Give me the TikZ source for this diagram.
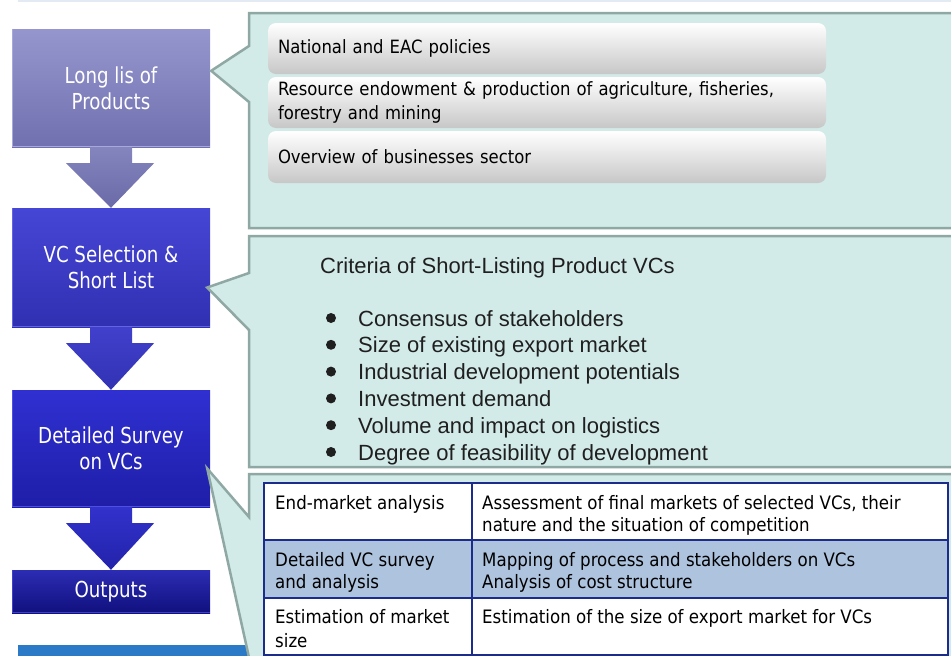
\documentclass[tikz,border=0pt]{standalone}
\usepackage{fontspec}
\setmainfont{DejaVu Sans Condensed}
\newfontfamily\gothic[FakeStretch=0.92]{DejaVu Sans Condensed}
\newfontfamily\arialf{Liberation Sans}
\usetikzlibrary{calc}
\definecolor{panelfill}{HTML}{D3EBE8}
\definecolor{panelline}{HTML}{8FA8A4}
\definecolor{tabline}{HTML}{1C2C8C}
\definecolor{rowfill}{HTML}{AEC3DE}
\definecolor{baseblue}{HTML}{2A7AC8}
\definecolor{topline}{HTML}{E4EAF4}
\definecolor{bAt}{HTML}{9696CE}\definecolor{bAb}{HTML}{7070B0}\definecolor{bAe}{HTML}{A8A8DA}
\definecolor{bBt}{HTML}{4646D6}\definecolor{bBb}{HTML}{3030B2}\definecolor{bBe}{HTML}{6464E0}
\definecolor{bCt}{HTML}{3030D2}\definecolor{bCb}{HTML}{1E1EA8}\definecolor{bCe}{HTML}{5050E0}
\definecolor{bDt}{HTML}{2C2CB4}\definecolor{bDb}{HTML}{10107E}\definecolor{bDe}{HTML}{4040C8}
\definecolor{aAt}{HTML}{8484BE}\definecolor{aAb}{HTML}{6A6AA8}
\definecolor{aBt}{HTML}{4040CC}\definecolor{aBb}{HTML}{3232B4}
\definecolor{aCt}{HTML}{3232CC}\definecolor{aCb}{HTML}{2222AA}
\tikzset{
  stepbox/.style={inner sep=0pt, minimum width=198pt, text=white, align=center,
    font=\gothic\fontsize{22}{26}\selectfont},
  panel/.style={fill=panelfill, draw=panelline, line width=2.5pt, line join=miter},
  itembox/.style={rounded corners=8pt, top color=white, bottom color=black!22,
    minimum width=558pt, text width=538pt, inner xsep=10pt, inner ysep=0pt, align=left,
    font=\rmfamily\fontsize{18.3}{24}\selectfont},
  crit/.style={anchor=base west, inner sep=0pt, font=\arialf\fontsize{22}{26}\selectfont, text=black!88},
  cell/.style={anchor=base west, inner sep=0pt, font=\rmfamily\fontsize{18.5}{22}\selectfont},
  tab/.style={draw=tabline, line width=1.8pt},
}
\begin{document}
\begin{tikzpicture}[x=1pt,y=-1pt]
\clip (0,0) rectangle (951,656);
\fill[white] (0,0) rectangle (951,656);
\draw[color=topline, line width=2pt] (18,1) -- (951,1);

% bottom bar
\fill[baseblue] (18,645) rectangle (260,660);

% left step boxes
\node[stepbox, minimum height=118pt, top color=bAt, bottom color=bAb] (b1) at (111,88) {Long lis of\\Products};
\node[stepbox, minimum height=119pt, top color=bBt, bottom color=bBb] (b2) at (111,267.5) {VC Selection \&\\Short List};
\node[stepbox, minimum height=117pt, top color=bCt, bottom color=bCb] (b3) at (111,448.5) {Detailed Survey\\on VCs};
\node[stepbox, minimum height=43pt, top color=bDt, bottom color=bDb] (b4) at (111,591.5) {Outputs};
\foreach \b/\c in {b1/bAe, b2/bBe, b3/bCe, b4/bDe}{
  \draw[color=\c, line width=1.5pt] ($(\b.north west)+(0.75,0)$) -- ($(\b.south west)+(0.75,-0.75)$) -- ($(\b.south east)+(0,-0.75)$);
}

% block arrows
\foreach \u/\v/\tc/\bc in {b1/b2/aAt/aAb, b2/b3/aBt/aBb, b3/b4/aCt/aCb}{
  \shade[top color=\tc, bottom color=\bc]
    ($(\u.south)+(-21,0)$) -- ($(\u.south)+(21,0)$) -- ($(\u.south)+(21,16)$) --
    ($(\u.south)+(43,16)$) -- (\v.north) -- ($(\u.south)+(-45,16)$) --
    ($(\u.south)+(-21,16)$) -- cycle;
}

% callout panels
\draw[panel] (249,13) -- (970,13) -- (970,228) -- (249,228) -- (249,102) -- ($(b1.north east)+(1,42)$) -- (249,46) -- cycle;
\draw[panel] (249,236) -- (970,236) -- (970,467) -- (249,467) -- (249,330) -- ($(b2.east)+(-3,20)$) -- (249,273) -- cycle;
\draw[panel] (249,474) -- (970,474) -- (970,680) -- (254,680) -- ($(b3.east)+(-3,20)$) -- (249,517) -- cycle;

% panel 1 items
\node[itembox, minimum height=51pt] (i1) at (547,48.5) {National and EAC policies};
\node[itembox, minimum height=51pt] (i2) at (547,102.5) {Resource endowment \& production of agriculture, fisheries,\\forestry and mining};
\node[itembox, minimum height=52pt] (i3) at (547,157) {Overview of businesses sector};

% panel 2 criteria
\node[crit] (ct) at (320,273) {Criteria of Short-Listing Product VCs};
\foreach \t [count=\i from 0] in {Consensus of stakeholders, Size of existing export market, Industrial development potentials, Investment demand, Volume and impact on logistics, Degree of feasibility of development}{
  \fill[black!88] (331,{318+26.8*\i}) circle (5pt);
  \node[crit] (c\i) at (358,{326+26.8*\i}) {\t};
}

% table
\fill[white] (264,483) rectangle (948,655);
\fill[rowfill] (264,540) rectangle (948,598);
\draw[tab] (264,483) rectangle (948,655);
\draw[tab] (264,540) -- (948,540);
\draw[tab] (264,598) -- (948,598);
\draw[tab] (472,483) -- (472,655);
\node[cell] (t11) at (275,509) {End-market analysis};
\node[cell] (t12) at (482,509) {Assessment of final markets of selected VCs, their};
\node[cell] (t13) at (482,531) {nature and the situation of competition};
\node[cell] (t21) at (275,566) {Detailed VC survey};
\node[cell] (t22) at (275,588) {and analysis};
\node[cell] (t23) at (482,566) {Mapping of process and stakeholders on VCs};
\node[cell] (t24) at (482,588) {Analysis of cost structure};
\node[cell] (t31) at (275,623) {Estimation of market};
\node[cell] (t32) at (275,647) {size};
\node[cell] (t33) at (482,623) {Estimation of the size of export market for VCs};
\end{tikzpicture}
\end{document}
